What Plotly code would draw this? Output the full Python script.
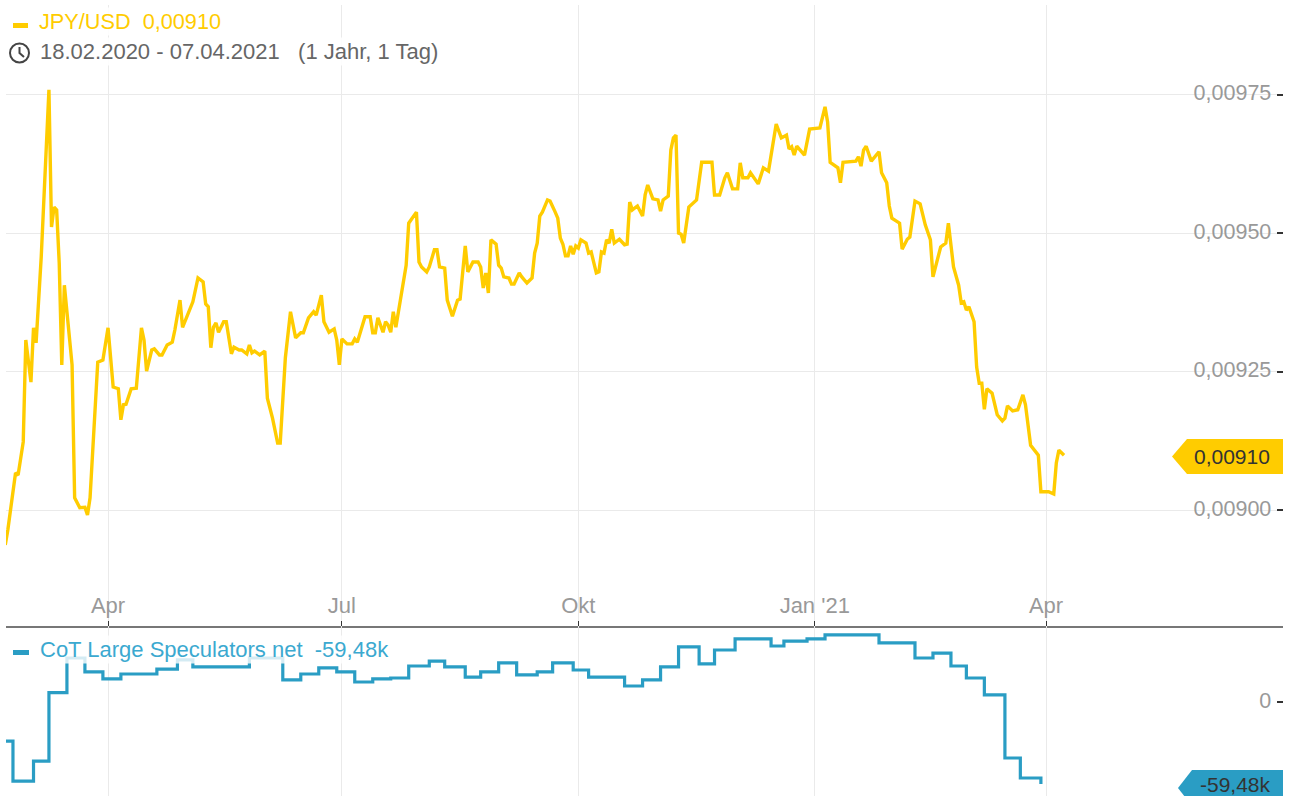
import pandas as pd
import plotly.graph_objects as go

# Days counted from 1 April 2020
price_days = [
    -40,-39,-36,-35,-33,-32,-30,-29,-28,-26,
    -23,-22,-21,-20,-19,-18,-17,-14,-13,-11,
    -9,-8,-7,-4,-2,0,2,4,5,6,
    7,9,11,13,14,15,17,18,20,21,
    23,25,26,28,29,31,33,35,37,38,
    39,40,41,42,43,45,46,48,49,51,
    52,54,55,56,57,59,61,62,64,66,
    67,69,71,73,75,76,78,80,81,83,
    84,86,88,89,90,91,93,95,96,97,
    100,102,103,104,105,107,108,109,110,111,
    112,113,115,116,117,119,120,121,122,124,
    125,127,128,129,131,132,134,136,137,139,
    140,142,144,145,146,147,148,149,151,152,
    153,154,156,157,158,160,161,163,165,166,
    167,168,169,171,172,174,175,176,177,178,
    179,180,181,182,183,184,186,187,188,190,
    191,192,193,194,195,196,197,199,201,202,
    203,204,206,208,209,210,212,214,215,216,
    218,219,220,221,222,223,224,226,229,231,
    235,236,238,240,241,243,245,246,247,249,
    250,253,255,257,258,260,262,264,265,266,
    267,268,271,273,277,279,280,281,284,285,
    286,291,292,293,294,295,297,300,301,303,
    304,305,308,309,311,312,314,316,318,320,
    321,324,326,327,329,331,332,333,334,335,
    337,338,339,340,341,342,344,346,348,349,
    350,352,354,356,357,358,359,362,363,366,
    368,369,370,372,
]
price_values = [
    0.008937,0.008964,0.009067,0.009063,0.009123,0.009307,0.009231,0.009329,0.009302,0.009457,
    0.009759,0.009511,0.009547,0.009542,0.009446,0.009262,0.009406,0.009262,0.009022,0.009004,
    0.009005,0.008991,0.009022,0.009267,0.009271,0.009329,0.009222,0.009219,0.009163,0.009190,
    0.009191,0.009219,0.009220,0.009329,0.009307,0.009251,0.009289,0.009291,0.009280,0.009280,
    0.009298,0.009303,0.009325,0.009379,0.009330,0.009352,0.009376,0.009419,0.009412,0.009372,
    0.009367,0.009293,0.009330,0.009338,0.009321,0.009340,0.009340,0.009282,0.009294,0.009289,
    0.009289,0.009282,0.009298,0.009284,0.009287,0.009280,0.009287,0.009202,0.009166,0.009121,
    0.009121,0.009275,0.009358,0.009311,0.009320,0.009320,0.009347,0.009358,0.009352,0.009388,
    0.009340,0.009321,0.009327,0.009307,0.009262,0.009309,0.009300,0.009300,0.009309,0.009303,
    0.009349,0.009349,0.009320,0.009320,0.009347,0.009321,0.009340,0.009334,0.009321,0.009358,
    0.009330,0.009358,0.009419,0.009442,0.009518,0.009533,0.009538,0.009448,0.009439,0.009430,
    0.009439,0.009470,0.009470,0.009439,0.009437,0.009379,0.009350,0.009379,0.009381,0.009477,
    0.009430,0.009448,0.009448,0.009439,0.009401,0.009428,0.009392,0.009488,0.009480,0.009442,
    0.009437,0.009421,0.009419,0.009408,0.009408,0.009428,0.009421,0.009410,0.009419,0.009464,
    0.009482,0.009531,0.009538,0.009560,0.009558,0.009538,0.009527,0.009491,0.009480,0.009459,
    0.009459,0.009477,0.009462,0.009477,0.009473,0.009488,0.009482,0.009464,0.009466,0.009428,
    0.009430,0.009466,0.009464,0.009488,0.009482,0.009507,0.009482,0.009489,0.009479,0.009480,
    0.009556,0.009542,0.009549,0.009531,0.009569,0.009587,0.009562,0.009560,0.009540,0.009560,
    0.009567,0.009650,0.009672,0.009677,0.009500,0.009498,0.009482,0.009547,0.009560,0.009628,
    0.009628,0.009569,0.009569,0.009600,0.009609,0.009580,0.009580,0.009627,0.009600,0.009600,
    0.009609,0.009589,0.009618,0.009612,0.009641,0.009697,0.009672,0.009677,0.009652,0.009656,
    0.009641,0.009657,0.009641,0.009688,0.009690,0.009728,0.009701,0.009628,0.009618,0.009591,
    0.009628,0.009630,0.009638,0.009621,0.009650,0.009657,0.009630,0.009647,0.009609,0.009591,
    0.009549,0.009527,0.009518,0.009471,0.009489,0.009493,0.009558,0.009553,0.009515,0.009488,
    0.009421,0.009475,0.009482,0.009518,0.009439,0.009406,0.009374,0.009376,0.009361,0.009367,
    0.009340,0.009258,0.009229,0.009229,0.009182,0.009219,0.009211,0.009172,0.009161,0.009166,
    0.009188,0.009179,0.009181,0.009208,0.009190,0.009157,0.009117,0.009099,0.009033,0.009033,
    0.009029,0.009085,0.009108,0.009099,
]
assert len(price_days) == len(price_values)

cot_days = [
    -40,-37,-29,-23,-16,-9,-2,5,19,27,33,55,68,75,82,89,96,103,110,117,125,131,139,145,152,
    159,167,173,181,187,201,208,215,222,230,236,244,258,263,272,279,300,314,321,328,334,
    341,349,355,363,
]
cot_values = [
    -28.3,-57.3,-42.8,6.8,31.9,21.8,16.7,20.3,23.9,30.5,25.4,31.9,16.0,20.3,24.7,21.8,14.5,16.7,17.4,26.1,29.7,25.4,18.1,21.8,28.3,
    19.6,21.8,28.3,23.2,18.1,11.6,16.0,25.4,39.9,27.6,37.7,45.7,40.6,44.2,45.7,48.6,42.8,31.9,35.5,26.1,17.4,
    5.1,-40.6,-55.1,-59.48,
]
assert len(cot_days) == len(cot_values)

tick_dates = ["2020-04-01", "2020-07-01", "2020-10-01", "2021-01-01", "2021-04-01"]
tick_months = ["Apr", "Jul", "Okt", "Jan '21", "Apr"]
price_ticks = [0.00900, 0.00925, 0.00950, 0.00975]
price_tick_labels = ["0,00900", "0,00925", "0,00950", "0,00975"]
cot_ticks = [0]
cot_tick_labels = ["0"]

YELLOW = "#FFCC00"
BLUE = "#2A9DC4"
BLUE_TEXT = "#3BA9D0"
GRID = "#EAEAEA"
LABEL = "#999999"
FONT = "Liberation Sans, Arial, sans-serif"
W, H = 1290, 796
BASE = pd.Timestamp("2020-04-01")


def dates(days):
    return [(BASE + pd.Timedelta(days=d)).strftime("%Y-%m-%d") for d in days]


def px(x):
    return x / W


def py(y):
    return 1 - y / H


x_range = ["2020-02-21 07:00", "2021-07-02 05:00"]
axis_common = dict(
    type="date", range=x_range, domain=[px(6), px(1283)], tickmode="array",
    tickvals=tick_dates, showgrid=True, gridcolor=GRID, gridwidth=1, zeroline=False,
)

fig = go.Figure()
fig.add_trace(go.Scatter(x=dates(price_days), y=price_values, mode="lines", xaxis="x", yaxis="y",
                         line=dict(color=YELLOW, width=3.4), showlegend=False, hoverinfo="skip"))
fig.add_trace(go.Scatter(x=dates(cot_days), y=cot_values, mode="lines", xaxis="x2", yaxis="y2",
                         line=dict(color=BLUE, width=3.2, shape="hv"), showlegend=False, hoverinfo="skip"))


def tag(points, color):
    d = "M " + " L ".join(f"{px(x)} {py(y)}" for x, y in points) + " Z"
    return dict(type="path", path=d, xref="paper", yref="paper", fillcolor=color, line_width=0, layer="above")


shapes = [
    # white backing behind the axis labels, over the gridlines
    dict(type="rect", xref="paper", yref="paper", x0=px(1190), x1=px(1283), y0=py(626), y1=py(5),
         fillcolor="white", line_width=0, layer="between"),
    dict(type="rect", xref="paper", yref="paper", x0=px(6), x1=px(1283), y0=py(620), y1=py(596),
         fillcolor="white", line_width=0, layer="between"),
    tag([(1172, 456.5), (1187, 439), (1283, 439), (1283, 474), (1187, 474)], YELLOW),
    tag([(1178, 788), (1192, 770), (1283, 770), (1283, 806), (1192, 806)], BLUE),
    dict(type="rect", xref="paper", yref="paper", x0=px(13), x1=px(28), y0=py(28), y1=py(23),
         fillcolor=YELLOW, line_width=0, layer="above"),
    dict(type="rect", xref="paper", yref="paper", x0=px(13), x1=px(29), y0=py(655), y1=py(650),
         fillcolor=BLUE, line_width=0, layer="above"),
    dict(type="circle", xref="paper", yref="paper", x0=px(10), x1=px(29), y0=py(62.5), y1=py(43.5),
         line=dict(color="#444444", width=2), layer="above"),
    dict(type="path", xref="paper", yref="paper", layer="above", line=dict(color="#444444", width=2),
         path=f"M {px(19.5)} {py(47)} L {px(19.5)} {py(53)} L {px(24)} {py(57)}"),
]

def note(x, y, text, color, size, anchor="left", bg=None):
    font = dict(family=FONT, size=size, color=color)
    return dict(xref="paper", yref="paper", x=px(x), y=py(y), text=text, showarrow=False,
                xanchor=anchor, yanchor="middle", font=font, bgcolor=bg, borderpad=1)


annotations = [
    note(37, 21.5, "JPY/USD  0,00910", YELLOW, 21.7, bg="rgba(255,255,255,0.9)"),
    note(38, 52, "18.02.2020 - 07.04.2021   (1 Jahr, 1 Tag)", "#666666", 22, bg="rgba(255,255,255,0.9)"),
    note(38, 649, "CoT Large Speculators net  -59,48k", BLUE_TEXT, 22, bg="rgba(255,255,255,0.8)"),
    note(1232, 456, "0,00910", "#333333", 21, anchor="center"),
    note(1235, 784, "-59,48k", "#333333", 21, anchor="center"),
]

x_font = dict(family=FONT, size=22, color=LABEL)
y_font = dict(family=FONT, size=21.5, color=LABEL)
fig.update_layout(
    width=W, height=H, margin=dict(l=0, r=0, t=0, b=0),
    paper_bgcolor="white", plot_bgcolor="white", showlegend=False,
    font=dict(family=FONT), shapes=shapes, annotations=annotations,
    xaxis=dict(axis_common, anchor="y", ticktext=tick_months, showticklabels=True, ticks="inside",
               ticklen=5, tickwidth=1, tickcolor="#333333", ticklabelposition="inside",
               ticklabelstandoff=5,
               tickfont=x_font, showline=True, linecolor="#777777", linewidth=2),
    xaxis2=dict(axis_common, anchor="y2", matches="x", showticklabels=False, ticks=""),
    yaxis=dict(domain=[py(626), py(5)], range=[0.0087905, 0.00991203], anchor="x", side="right",
               tickmode="array", tickvals=price_ticks, ticktext=price_tick_labels, ticks="inside",
               ticklen=6, tickwidth=2, tickcolor="#333333", ticklabelposition="inside",
               ticklabelstandoff=7, ticklabelshift=-2,
               tickfont=y_font, showgrid=True, gridcolor=GRID, zeroline=False, showline=False),
    yaxis2=dict(domain=[0, py(626)], range=[-68.15, 55.1], anchor="x2", side="right",
                tickmode="array", tickvals=cot_ticks, ticktext=cot_tick_labels, ticks="inside",
                ticklen=6, tickwidth=2, tickcolor="#333333", ticklabelposition="inside",
                ticklabelstandoff=7, ticklabelshift=-2,
                tickfont=y_font, showgrid=False, zeroline=False, showline=False),
)

fig.write_html("out.html", config=dict(displayModeBar=False),
               post_script="document.body.style.margin='0';document.body.style.overflow='hidden';")
